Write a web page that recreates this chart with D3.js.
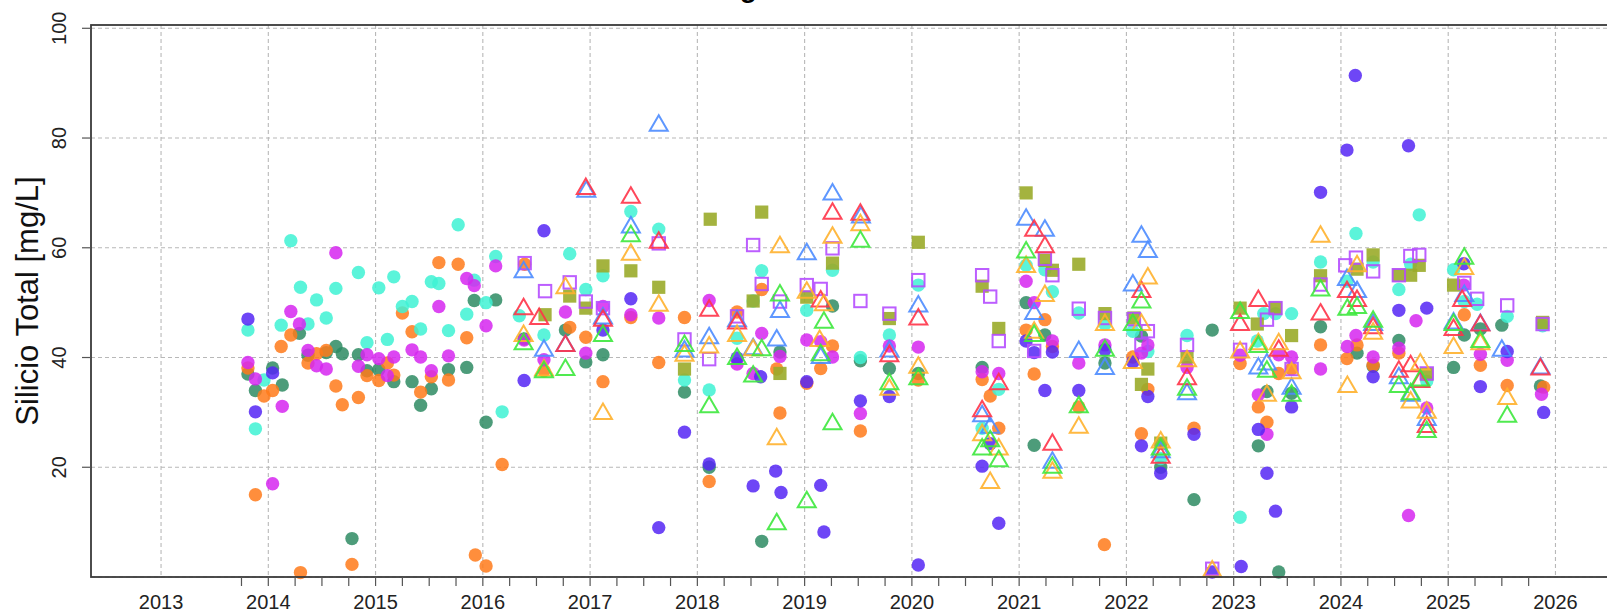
<!DOCTYPE html>
<html><head><meta charset="utf-8">
<script src="https://cdn.jsdelivr.net/npm/d3@7"></script>
<style>body{margin:0;background:#fff;overflow:hidden;} svg{display:block;}</style>
</head><body><svg id="c" width="1607" height="613"></svg>
<script>
// ---- tick labels / axes data ----
const yearTicks = d3.range(2013, 2027);
const yTicks = [20, 40, 60, 80, 100];
const yGrid = [0, 20, 40, 60, 80, 100];
const quarterTicks = d3.range(2013.75, 2025.76, 0.25);
const yLabel = "Silicio Total [mg/L]";
const titleText = "Silicio Total mg/L";

// ---- series values: [decimal year, mg/L] ----
const sBlueViolet = [[2013.81,47.0],[2013.88,30.1],[2014.04,37.2],[2016.385,35.8],[2016.57,63.1],[2017.12,45.0],[2017.38,50.7],[2017.64,9.0],[2017.88,26.4],[2018.11,20.6],[2018.37,39.9],[2018.52,16.6],[2018.59,36.5],[2018.73,19.3],[2018.78,15.4],[2019.02,35.6],[2019.15,16.7],[2019.18,8.2],[2019.52,32.1],[2019.79,32.9],[2020.06,2.2],[2020.655,20.2],[2020.73,24.3],[2020.81,9.8],[2021.065,43.0],[2021.14,40.9],[2021.24,34.0],[2021.31,41.0],[2021.556,34.0],[2021.80,41.4],[2022.06,39.2],[2022.14,23.9],[2022.2,32.9],[2022.32,18.9],[2022.63,26.0],[2022.8,0.9],[2023.07,1.9],[2023.23,26.9],[2023.31,18.9],[2023.39,12.0],[2023.54,31.0],[2023.81,70.1],[2024.056,77.8],[2024.134,91.4],[2024.3,36.5],[2024.54,48.6],[2024.63,78.6],[2024.8,49.0],[2025.145,57.1],[2025.3,34.7],[2025.55,41.1],[2025.89,30.0]];
const sMagenta = [[2013.81,39.1],[2013.88,36.1],[2014.04,17.0],[2014.13,31.1],[2014.21,48.4],[2014.29,46.1],[2014.37,41.3],[2014.45,38.5],[2014.54,37.9],[2014.63,59.1],[2014.84,38.4],[2014.92,40.5],[2015.03,39.8],[2015.11,36.7],[2015.17,40.1],[2015.34,41.4],[2015.42,40.1],[2015.52,37.6],[2015.59,49.3],[2015.68,40.3],[2015.85,54.4],[2015.92,53.1],[2016.03,45.8],[2016.12,56.7],[2016.385,43.2],[2016.57,39.6],[2016.77,48.3],[2016.96,40.8],[2017.12,49.3],[2017.38,47.8],[2017.64,47.2],[2018.11,50.4],[2018.37,38.8],[2018.52,37.1],[2018.6,44.4],[2018.77,40.2],[2019.02,43.2],[2019.15,42.9],[2019.26,40.1],[2019.52,29.8],[2019.79,42.1],[2020.06,41.9],[2020.655,37.4],[2020.81,37.1],[2021.065,53.9],[2021.14,50.0],[2021.31,43.0],[2021.556,39.0],[2021.80,42.3],[2022.14,40.8],[2022.2,42.3],[2022.565,38.2],[2023.06,40.4],[2023.23,33.2],[2023.31,26.0],[2023.42,40.5],[2023.54,40.1],[2023.81,37.9],[2024.06,42.0],[2024.14,44.0],[2024.3,40.1],[2024.54,41.7],[2024.63,11.2],[2024.7,46.7],[2024.8,30.8],[2025.145,53.2],[2025.3,40.6],[2025.55,39.5],[2025.87,33.3]];
const sTurquoise = [[2013.81,45.0],[2013.88,27.0],[2013.96,35.9],[2014.12,45.9],[2014.21,61.3],[2014.3,52.8],[2014.37,46.1],[2014.45,50.5],[2014.54,47.2],[2014.63,52.6],[2014.84,55.5],[2014.92,42.7],[2015.03,52.7],[2015.11,43.3],[2015.17,54.7],[2015.25,49.3],[2015.34,50.2],[2015.42,45.2],[2015.52,53.8],[2015.59,53.5],[2015.68,44.9],[2015.77,64.2],[2015.85,47.9],[2015.92,54.1],[2016.03,50.0],[2016.12,58.4],[2016.18,30.1],[2016.34,47.6],[2016.57,44.1],[2016.81,58.9],[2016.96,52.4],[2017.12,54.9],[2017.38,66.6],[2017.64,63.4],[2017.88,35.9],[2018.11,34.1],[2018.37,43.5],[2018.52,50.3],[2018.6,55.8],[2019.02,48.6],[2019.26,55.9],[2019.52,40.0],[2019.79,44.1],[2020.06,53.2],[2020.655,27.1],[2020.81,34.2],[2021.065,56.8],[2021.24,56.0],[2021.31,52.0],[2021.556,48.1],[2021.80,46.1],[2022.06,44.8],[2022.2,41.1],[2022.32,21.6],[2022.565,44.0],[2023.06,10.9],[2023.22,43.0],[2023.28,48.0],[2023.39,48.0],[2023.54,48.0],[2023.81,57.4],[2024.056,53.9],[2024.14,62.6],[2024.3,57.4],[2024.54,52.4],[2024.65,57.0],[2024.73,66.0],[2024.8,35.7],[2025.05,56.0],[2025.15,50.2],[2025.27,49.7],[2025.55,47.5],[2025.88,45.8]];
const sDarkGreen = [[2013.81,37.0],[2013.88,34.0],[2014.04,38.1],[2014.13,35.0],[2014.29,44.4],[2014.37,40.4],[2014.54,40.9],[2014.63,42.0],[2014.69,40.7],[2014.78,7.0],[2014.84,40.5],[2014.92,37.6],[2015.03,37.8],[2015.17,35.6],[2015.34,35.6],[2015.42,31.3],[2015.52,34.3],[2015.68,37.8],[2015.85,38.2],[2015.92,50.4],[2016.03,28.2],[2016.12,50.5],[2016.385,43.4],[2016.77,45.0],[2016.96,39.2],[2017.12,40.5],[2017.88,33.7],[2018.11,20.0],[2018.6,6.5],[2018.77,41.0],[2019.26,49.4],[2019.52,39.4],[2019.79,38.0],[2020.06,37.1],[2020.655,38.2],[2021.065,50.0],[2021.14,24.0],[2021.24,44.1],[2021.80,39.0],[2022.14,43.9],[2022.32,20.0],[2022.63,14.1],[2022.8,45.0],[2023.23,23.9],[2023.31,33.8],[2023.42,0.9],[2023.54,33.5],[2023.81,45.6],[2024.15,40.8],[2024.3,38.4],[2024.54,43.1],[2025.05,38.2],[2025.15,44.1],[2025.3,45.2],[2025.5,45.9],[2025.86,34.8]];
const sOrange = [[2013.81,38.1],[2013.88,15.0],[2013.96,33.0],[2014.04,34.0],[2014.12,42.0],[2014.21,44.1],[2014.3,0.8],[2014.37,39.0],[2014.45,40.7],[2014.54,41.3],[2014.63,34.8],[2014.69,31.4],[2014.78,2.3],[2014.84,32.7],[2014.92,36.7],[2015.03,35.8],[2015.11,39.0],[2015.17,36.8],[2015.25,48.1],[2015.34,44.7],[2015.42,33.7],[2015.52,36.5],[2015.59,57.3],[2015.68,35.9],[2015.77,57.0],[2015.85,43.6],[2015.93,4.0],[2016.03,2.0],[2016.18,20.5],[2016.39,57.0],[2016.57,37.6],[2016.81,45.5],[2016.96,43.7],[2017.12,35.6],[2017.38,47.3],[2017.64,39.1],[2017.88,47.3],[2018.11,17.4],[2018.37,48.3],[2018.6,52.4],[2018.74,37.9],[2018.77,29.9],[2019.02,35.3],[2019.15,38.0],[2019.26,42.1],[2019.52,26.6],[2020.06,35.9],[2020.655,36.0],[2020.73,33.0],[2020.81,27.1],[2021.065,45.0],[2021.14,37.0],[2021.24,46.9],[2021.31,42.0],[2021.556,31.0],[2021.795,5.9],[2022.06,40.1],[2022.14,26.1],[2022.2,34.2],[2022.63,27.1],[2023.06,38.9],[2023.23,31.0],[2023.31,28.2],[2023.42,37.1],[2023.54,37.9],[2023.81,42.3],[2024.056,39.8],[2024.15,42.3],[2024.3,38.6],[2024.54,40.8],[2025.15,47.8],[2025.3,38.6],[2025.55,34.9],[2025.89,34.6]];
const sOliveSq = [[2016.58,47.8],[2016.81,51.2],[2016.96,49.0],[2017.12,56.7],[2017.38,55.8],[2017.64,52.8],[2017.88,37.9],[2018.12,65.2],[2018.52,50.3],[2018.6,66.5],[2018.77,37.1],[2019.02,51.0],[2019.26,57.2],[2019.79,47.1],[2020.06,61.0],[2020.655,53.0],[2020.81,45.3],[2021.065,70.0],[2021.24,57.7],[2021.31,55.9],[2021.556,57.0],[2021.80,48.0],[2022.07,47.2],[2022.14,35.1],[2022.2,37.9],[2022.32,24.4],[2022.565,40.1],[2023.06,49.0],[2023.22,46.1],[2023.39,49.0],[2023.54,44.0],[2023.81,54.9],[2024.15,56.1],[2024.3,58.7],[2024.54,55.0],[2024.65,55.0],[2024.73,56.8],[2024.8,37.0],[2025.05,53.2],[2025.88,46.4]];
const sPurpleSq = [[2016.39,57.2],[2016.58,52.1],[2016.81,53.7],[2016.96,50.2],[2017.12,49.0],[2017.64,60.8],[2017.88,43.3],[2018.11,39.7],[2018.37,47.5],[2018.52,60.5],[2018.6,53.4],[2018.77,50.2],[2019.02,53.2],[2019.15,52.5],[2019.26,59.9],[2019.52,50.3],[2019.79,48.0],[2020.06,54.1],[2020.655,55.0],[2020.73,51.1],[2020.81,43.0],[2021.14,41.2],[2021.24,58.0],[2021.31,55.0],[2021.556,48.9],[2021.80,47.2],[2022.07,47.0],[2022.14,42.3],[2022.2,44.8],[2022.565,42.3],[2022.8,1.5],[2023.06,41.4],[2023.31,46.9],[2023.39,49.0],[2023.54,37.9],[2023.81,53.3],[2024.04,56.8],[2024.14,58.2],[2024.3,55.7],[2024.54,55.0],[2024.647,58.5],[2024.73,58.7],[2024.8,37.1],[2025.15,53.6],[2025.27,50.7],[2025.55,49.5],[2025.88,46.1]];
const sBlueTri = [[2016.38,55.7],[2016.57,41.4],[2016.77,42.3],[2016.965,70.4],[2017.12,47.3],[2017.38,63.9],[2017.64,82.4],[2017.88,41.3],[2018.11,43.7],[2018.37,46.8],[2018.52,41.7],[2018.74,43.3],[2018.77,48.5],[2019.02,59.0],[2019.15,40.1],[2019.26,69.9],[2019.525,65.7],[2019.79,41.3],[2020.06,49.5],[2020.655,29.5],[2020.73,27.4],[2021.065,65.3],[2021.14,48.1],[2021.24,63.3],[2021.31,21.0],[2021.556,41.2],[2021.80,38.1],[2022.06,53.3],[2022.14,62.2],[2022.2,59.4],[2022.32,22.9],[2022.565,33.5],[2023.23,38.2],[2023.31,38.9],[2023.54,34.5],[2024.056,54.3],[2024.15,52.1],[2024.3,46.1],[2024.54,36.4],[2024.65,33.2],[2024.8,28.8],[2025.05,46.4],[2025.15,51.4],[2025.3,46.1],[2025.5,41.4],[2025.86,38.2]];
const sRedTri = [[2016.38,49.0],[2016.525,47.2],[2016.77,42.3],[2016.96,70.9],[2017.12,46.9],[2017.38,69.3],[2017.64,61.1],[2018.11,48.7],[2018.37,46.4],[2019.15,50.4],[2019.26,66.4],[2019.52,66.2],[2019.79,40.4],[2020.06,47.1],[2020.655,30.4],[2020.81,35.3],[2021.14,63.3],[2021.24,60.3],[2021.31,24.3],[2022.14,52.1],[2022.32,21.9],[2022.565,36.2],[2023.06,46.1],[2023.23,50.5],[2023.42,41.4],[2023.81,48.0],[2024.056,52.1],[2024.15,50.5],[2024.3,45.5],[2024.54,37.6],[2024.65,38.6],[2024.74,35.7],[2024.8,27.5],[2025.05,45.2],[2025.13,50.5],[2025.3,46.0],[2025.86,38.0]];
const sOrangeTri = [[2016.38,44.1],[2016.57,37.8],[2016.77,52.8],[2017.12,29.9],[2017.38,58.9],[2017.64,49.6],[2017.88,40.5],[2018.11,42.0],[2018.37,44.1],[2018.52,41.5],[2018.74,25.3],[2018.77,60.3],[2019.02,52.0],[2019.14,43.2],[2019.18,49.7],[2019.26,62.0],[2019.52,64.3],[2019.79,34.3],[2020.06,38.3],[2020.655,26.0],[2020.73,17.3],[2020.81,23.4],[2021.065,56.7],[2021.14,44.7],[2021.24,51.4],[2021.31,19.2],[2021.556,27.4],[2021.80,46.1],[2022.06,39.2],[2022.14,46.1],[2022.2,54.6],[2022.32,24.7],[2022.565,39.5],[2022.8,1.2],[2023.06,41.1],[2023.23,42.6],[2023.31,33.2],[2023.42,42.6],[2023.54,37.3],[2023.81,62.2],[2024.06,34.8],[2024.15,56.8],[2024.3,44.5],[2024.65,32.0],[2024.74,38.9],[2024.8,30.1],[2025.05,41.9],[2025.15,56.3],[2025.3,42.6],[2025.55,32.6]];
const sGreenTri = [[2016.38,42.6],[2016.57,37.5],[2016.77,37.9],[2017.12,44.1],[2017.38,62.3],[2017.88,42.3],[2018.11,31.1],[2018.37,39.9],[2018.52,36.7],[2018.6,41.5],[2018.74,9.8],[2018.77,51.5],[2019.02,13.8],[2019.15,40.6],[2019.18,46.5],[2019.26,28.0],[2019.52,61.3],[2019.79,35.3],[2020.06,36.2],[2020.655,23.4],[2020.73,24.9],[2020.81,21.3],[2021.065,59.3],[2021.14,44.1],[2021.31,20.1],[2021.556,31.1],[2021.80,41.4],[2022.06,46.1],[2022.14,50.2],[2022.32,23.4],[2022.565,34.3],[2023.06,48.3],[2023.23,42.1],[2023.31,37.6],[2023.54,33.2],[2023.81,52.4],[2024.06,48.9],[2024.15,49.2],[2024.3,46.7],[2024.54,34.8],[2024.65,33.5],[2024.74,36.0],[2024.8,26.6],[2025.05,46.1],[2025.15,58.2],[2025.3,43.0],[2025.55,29.4]];

// ---- styling (kept apart from the data) ----
const seriesDefs = [
  {data: sDarkGreen, shape: "circle", color: "#2e8b63"},
  {data: sOrange, shape: "circle", color: "#ff7a1a"},
  {data: sTurquoise, shape: "circle", color: "#3ef2d4"},
  {data: sMagenta, shape: "circle", color: "#d626f0"},
  {data: sBlueViolet, shape: "circle", color: "#5526f5"},
  {data: sOliveSq, shape: "fsquare", color: "#9aab2a"},
  {data: sPurpleSq, shape: "osquare", color: "#b54dff"},
  {data: sBlueTri, shape: "tri", color: "#4d8cff"},
  {data: sRedTri, shape: "tri", color: "#ff3348"},
  {data: sOrangeTri, shape: "tri", color: "#ffb12e"},
  {data: sGreenTri, shape: "tri", color: "#3de83d"}
];

const W = 1607, H = 613;
const m = {left: 91, top: 25, bottom: 577, right: 1652};
const x = d3.scaleLinear().domain([2012.347, 2026.9]).range([m.left, m.right]);
const y = d3.scaleLinear().domain([0, 100.6]).range([m.bottom, m.top]);
const FONT = "'Liberation Sans', Arial, Helvetica, sans-serif";

const svg = d3.select("#c");
svg.append("rect").attr("width", W).attr("height", H).attr("fill", "#fff");

// title (almost entirely above the visible area, as in the reference)
svg.append("text").attr("x", 552).attr("y", -3.5)
  .attr("font-family", FONT).attr("font-size", 28).attr("font-weight", "bold")
  .attr("fill", "#000").text(titleText);

// grid
const grid = svg.append("g").attr("stroke", "#b8b8b8").attr("stroke-width", 1.1).attr("stroke-dasharray", "4,3");
grid.selectAll("line.v").data(yearTicks).join("line")
  .attr("x1", d => x(d)).attr("x2", d => x(d)).attr("y1", m.top).attr("y2", m.bottom);
grid.selectAll("line.h").data(yGrid).join("line")
  .attr("x1", m.left).attr("x2", m.right).attr("y1", d => y(d)).attr("y2", d => y(d));

// points
const plot = svg.append("g");
const triPath = "M0,-9.5L9,6L-9,6Z";
seriesDefs.forEach(s => {
  const g = plot.append("g");
  if (s.shape === "circle") {
    g.selectAll("circle").data(s.data).join("circle")
      .attr("cx", d => x(d[0])).attr("cy", d => y(d[1])).attr("r", 6.7)
      .attr("fill", s.color).attr("fill-opacity", 0.85);
  } else if (s.shape === "fsquare") {
    g.selectAll("rect").data(s.data).join("rect")
      .attr("x", d => x(d[0]) - 6.6).attr("y", d => y(d[1]) - 6.6)
      .attr("width", 13.2).attr("height", 13.2)
      .attr("fill", s.color).attr("fill-opacity", 0.9);
  } else if (s.shape === "osquare") {
    g.selectAll("rect").data(s.data).join("rect")
      .attr("x", d => x(d[0]) - 6.2).attr("y", d => y(d[1]) - 6.2)
      .attr("width", 12.4).attr("height", 12.4)
      .attr("fill", "none").attr("stroke", s.color).attr("stroke-width", 2).attr("stroke-opacity", 0.9);
  } else {
    g.selectAll("path").data(s.data).join("path")
      .attr("d", triPath)
      .attr("transform", d => `translate(${x(d[0])},${y(d[1])})`)
      .attr("fill", "none").attr("stroke", s.color).attr("stroke-width", 2).attr("stroke-opacity", 0.9);
  }
});

// frame
svg.append("rect").attr("x", m.left).attr("y", m.top)
  .attr("width", m.right - m.left).attr("height", m.bottom - m.top)
  .attr("fill", "none").attr("stroke", "#3a3a3a").attr("stroke-width", 1.8);

// y axis ticks + labels
const ya = svg.append("g");
ya.selectAll("line").data(yTicks).join("line")
  .attr("x1", m.left - 9).attr("x2", m.left).attr("y1", d => y(d)).attr("y2", d => y(d))
  .attr("stroke", "#555").attr("stroke-width", 1.2);
ya.selectAll("text").data(yTicks).join("text")
  .attr("transform", d => `translate(66,${y(d)}) rotate(-90)`)
  .attr("text-anchor", "middle").attr("font-family", FONT).attr("font-size", 20)
  .attr("fill", "#222").text(d => d);

// x axis minor ticks + labels
const xa = svg.append("g");
xa.selectAll("line").data(quarterTicks).join("line")
  .attr("x1", d => x(d)).attr("x2", d => x(d)).attr("y1", m.bottom).attr("y2", m.bottom + 9)
  .attr("stroke", "#555").attr("stroke-width", 1.2);
xa.selectAll("text").data(yearTicks).join("text")
  .attr("x", d => x(d)).attr("y", 609)
  .attr("text-anchor", "middle").attr("font-family", FONT).attr("font-size", 20)
  .attr("fill", "#222").text(d => d);

// y title
svg.append("text").attr("transform", "translate(38,301) rotate(-90)")
  .attr("text-anchor", "middle").attr("font-family", FONT).attr("font-size", 31)
  .attr("fill", "#111").text(yLabel);
</script></body></html>
